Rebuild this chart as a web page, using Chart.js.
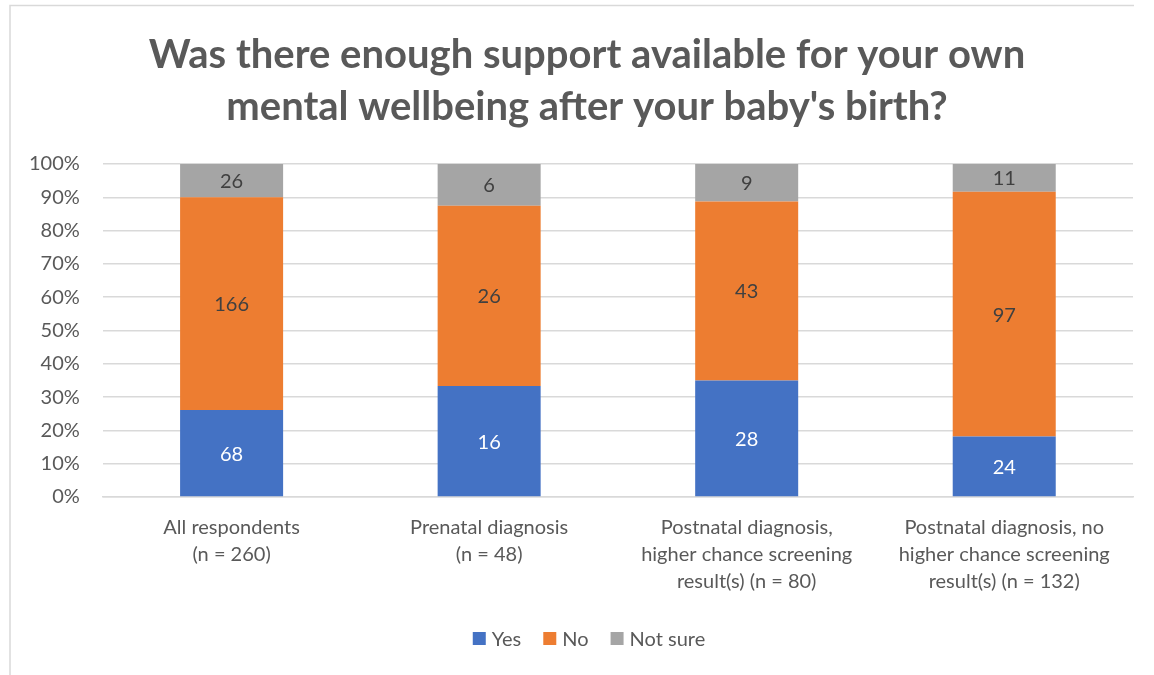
<!DOCTYPE html>
<html>
<head>
<meta charset="utf-8">
<script src="https://cdn.jsdelivr.net/npm/chart.js@4"></script>
<style>
html,body{margin:0;padding:0;background:#fff;}
#wrap{position:absolute;left:0;top:0;width:1154px;height:675px;}
</style>
</head>
<body>
<div id="wrap"><canvas id="c" width="1154" height="675"></canvas></div>
<script>
const categories = [
  ["All respondents", "(n = 260)"],
  ["Prenatal diagnosis", "(n = 48)"],
  ["Postnatal diagnosis,", "higher chance screening", "result(s) (n = 80)"],
  ["Postnatal diagnosis, no", "higher chance screening", "result(s) (n = 132)"]
];
const yesCounts = [68, 16, 28, 24];
const noCounts = [166, 26, 43, 97];
const notSureCounts = [26, 6, 9, 11];
const seriesNames = ["Yes", "No", "Not sure"];
const seriesColors = ['#4472c4', '#ed7d31', '#a5a5a5'];
const titleLines = ["Was there enough support available for your own", "mental wellbeing after your baby's birth?"];

const totals = yesCounts.map((v, i) => v + noCounts[i] + notSureCounts[i]);
const pct = arr => arr.map((v, i) => v / totals[i] * 100);

const FONT = "Lato, 'Liberation Sans', sans-serif";
const GREY = "#595959";

const framePlugin = {
  id: 'frame',
  beforeDraw(chart) {
    const ctx = chart.ctx;
    ctx.save();
    ctx.fillStyle = '#fff';
    ctx.fillRect(0, 0, chart.width, chart.height);
    ctx.strokeStyle = '#d9d9d9';
    ctx.lineWidth = 1.5;
    ctx.beginPath();
    ctx.moveTo(10, 675);
    ctx.lineTo(10, 5.5);
    ctx.lineTo(1134, 5.5);
    ctx.stroke();
    ctx.restore();
  },
  afterDraw(chart) {
    const ctx = chart.ctx;
    ctx.save();
    // title
    ctx.fillStyle = GREY;
    ctx.font = "bold 40px " + FONT;
    ctx.textAlign = 'center';
    ctx.textBaseline = 'middle';
    titleLines.forEach((t, i) => ctx.fillText(t, 587, 55 + i * 52));
    // legend
    ctx.font = "20px " + FONT;
    ctx.textAlign = 'left';
    const box = 13, gap = 6, spacing = 22;
    const widths = chart.data.datasets.map(d => ctx.measureText(d.label).width);
    const total = widths.reduce((a, w) => a + box + gap + w, 0) + spacing * (widths.length - 1);
    let x = 589 - total / 2;
    const cy = 639;
    chart.data.datasets.forEach((d, i) => {
      ctx.fillStyle = d.backgroundColor;
      ctx.fillRect(x, cy - 7, box, box);
      x += box + gap;
      ctx.fillStyle = GREY;
      ctx.fillText(d.label, x, cy + 1);
      x += widths[i] + spacing;
    });
    ctx.restore();
  }
};

const labelPlugin = {
  id: 'barLabels',
  afterDatasetsDraw(chart) {
    const ctx = chart.ctx;
    ctx.save();
    ctx.font = "20px " + FONT;
    ctx.textAlign = 'center';
    ctx.textBaseline = 'middle';
    chart.data.datasets.forEach((ds, di) => {
      const meta = chart.getDatasetMeta(di);
      meta.data.forEach((bar, i) => {
        const y = (bar.y + bar.base) / 2;
        ctx.fillStyle = di === 0 ? '#ffffff' : '#404040';
        ctx.fillText(String(ds.counts[i]), bar.x, y + 1);
      });
    });
    ctx.restore();
  }
};

new Chart(document.getElementById('c'), {
  type: 'bar',
  data: {
    labels: categories,
    datasets: [
      { label: seriesNames[0], data: pct(yesCounts), counts: yesCounts, backgroundColor: seriesColors[0] },
      { label: seriesNames[1], data: pct(noCounts), counts: noCounts, backgroundColor: seriesColors[1] },
      { label: seriesNames[2], data: pct(notSureCounts), counts: notSureCounts, backgroundColor: seriesColors[2] }
    ]
  },
  options: {
    responsive: false,
    animation: false,
    devicePixelRatio: 1,
    layout: { padding: { left: 6, right: 21, top: 164, bottom: 63 } },
    datasets: { bar: { categoryPercentage: 1, barPercentage: 0.4, borderWidth: 0 } },
    scales: {
      x: {
        stacked: true,
        grid: { display: false, drawTicks: false },
        border: { display: true, color: '#d9d9d9', width: 1.5 },
        ticks: { color: GREY, font: { family: FONT, size: 20, lineHeight: 1.35 }, padding: 17, maxRotation: 0, autoSkip: false }
      },
      y: {
        stacked: true,
        min: 0, max: 100,
        grid: { color: '#d9d9d9', lineWidth: 1.5, drawTicks: false },
        border: { display: false },
        ticks: { stepSize: 10, color: GREY, font: { family: FONT, size: 20 }, padding: 23, callback: v => v + '%' }
      }
    },
    plugins: {
      title: { display: false },
      legend: { display: false },
      tooltip: { enabled: false }
    }
  },
  plugins: [framePlugin, labelPlugin]
});
</script>
</body>
</html>
